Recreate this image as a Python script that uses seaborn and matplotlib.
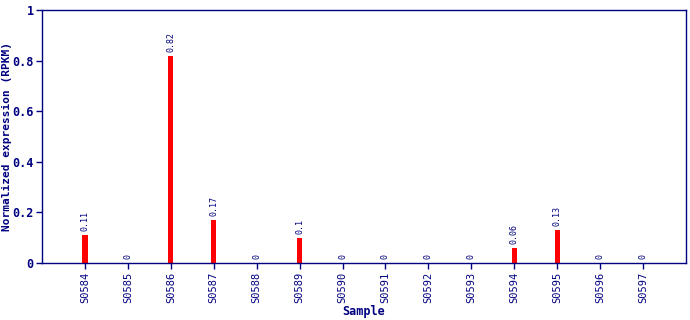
import matplotlib
matplotlib.use("Agg")
import matplotlib.pyplot as plt
import seaborn as sns
import pandas as pd

samples = ["S0584", "S0585", "S0586", "S0587", "S0588", "S0589", "S0590",
           "S0591", "S0592", "S0593", "S0594", "S0595", "S0596", "S0597"]
values = [0.11, 0, 0.82, 0.17, 0, 0.1, 0, 0, 0, 0, 0.06, 0.13, 0, 0]
labels = ["0.11", "0", "0.82", "0.17", "0", "0.1", "0", "0", "0", "0", "0.06", "0.13", "0", "0"]

sns.set_style("white")
plt.rcParams['font.family'] = ['DejaVu Sans Mono']
navy = "#000080"

df = pd.DataFrame({"Sample": samples, "Value": values})
fig = plt.figure(figsize=(6.9, 3.2), dpi=100)
ax = fig.add_axes([42/690, 57/320, 644/690, 253/320])
sns.barplot(data=df, x="Sample", y="Value", color="#ff0000", width=0.12,
            saturation=1, ax=ax, edgecolor="none")
ax.set_xlim(-1, 14)
ax.set_ylim(0, 1)
ax.set_yticks([0, 0.2, 0.4, 0.6, 0.8, 1])
ax.set_yticklabels(["0", "0.2", "0.4", "0.6", "0.8", "1"], fontsize=8.5,
                   fontweight="bold", color=navy)
ax.set_xticks(range(len(samples)))
ax.set_xticklabels(samples, rotation=90, fontsize=7.5, color=navy)
ax.tick_params(axis="both", direction="out", length=4, color=navy, width=1,
               left=True, bottom=True, pad=2)
for s in ax.spines.values():
    s.set_color(navy)
    s.set_linewidth(1)
ax.set_xlabel("Sample", fontsize=8.5, fontweight="bold", color=navy, labelpad=2)
ax.set_ylabel("Normalized expression (RPKM)", fontsize=8, fontweight="bold",
              color=navy)
ax.yaxis.label.set_va("center")
ax.yaxis.set_label_coords((7 - 42) / 644, 0.5)
for i, (v, lab) in enumerate(zip(values, labels)):
    ax.text(i, v + 0.015, lab, rotation=90, ha="center", va="bottom",
            fontsize=6, color=navy)
fig.savefig("out.png", dpi=100)
